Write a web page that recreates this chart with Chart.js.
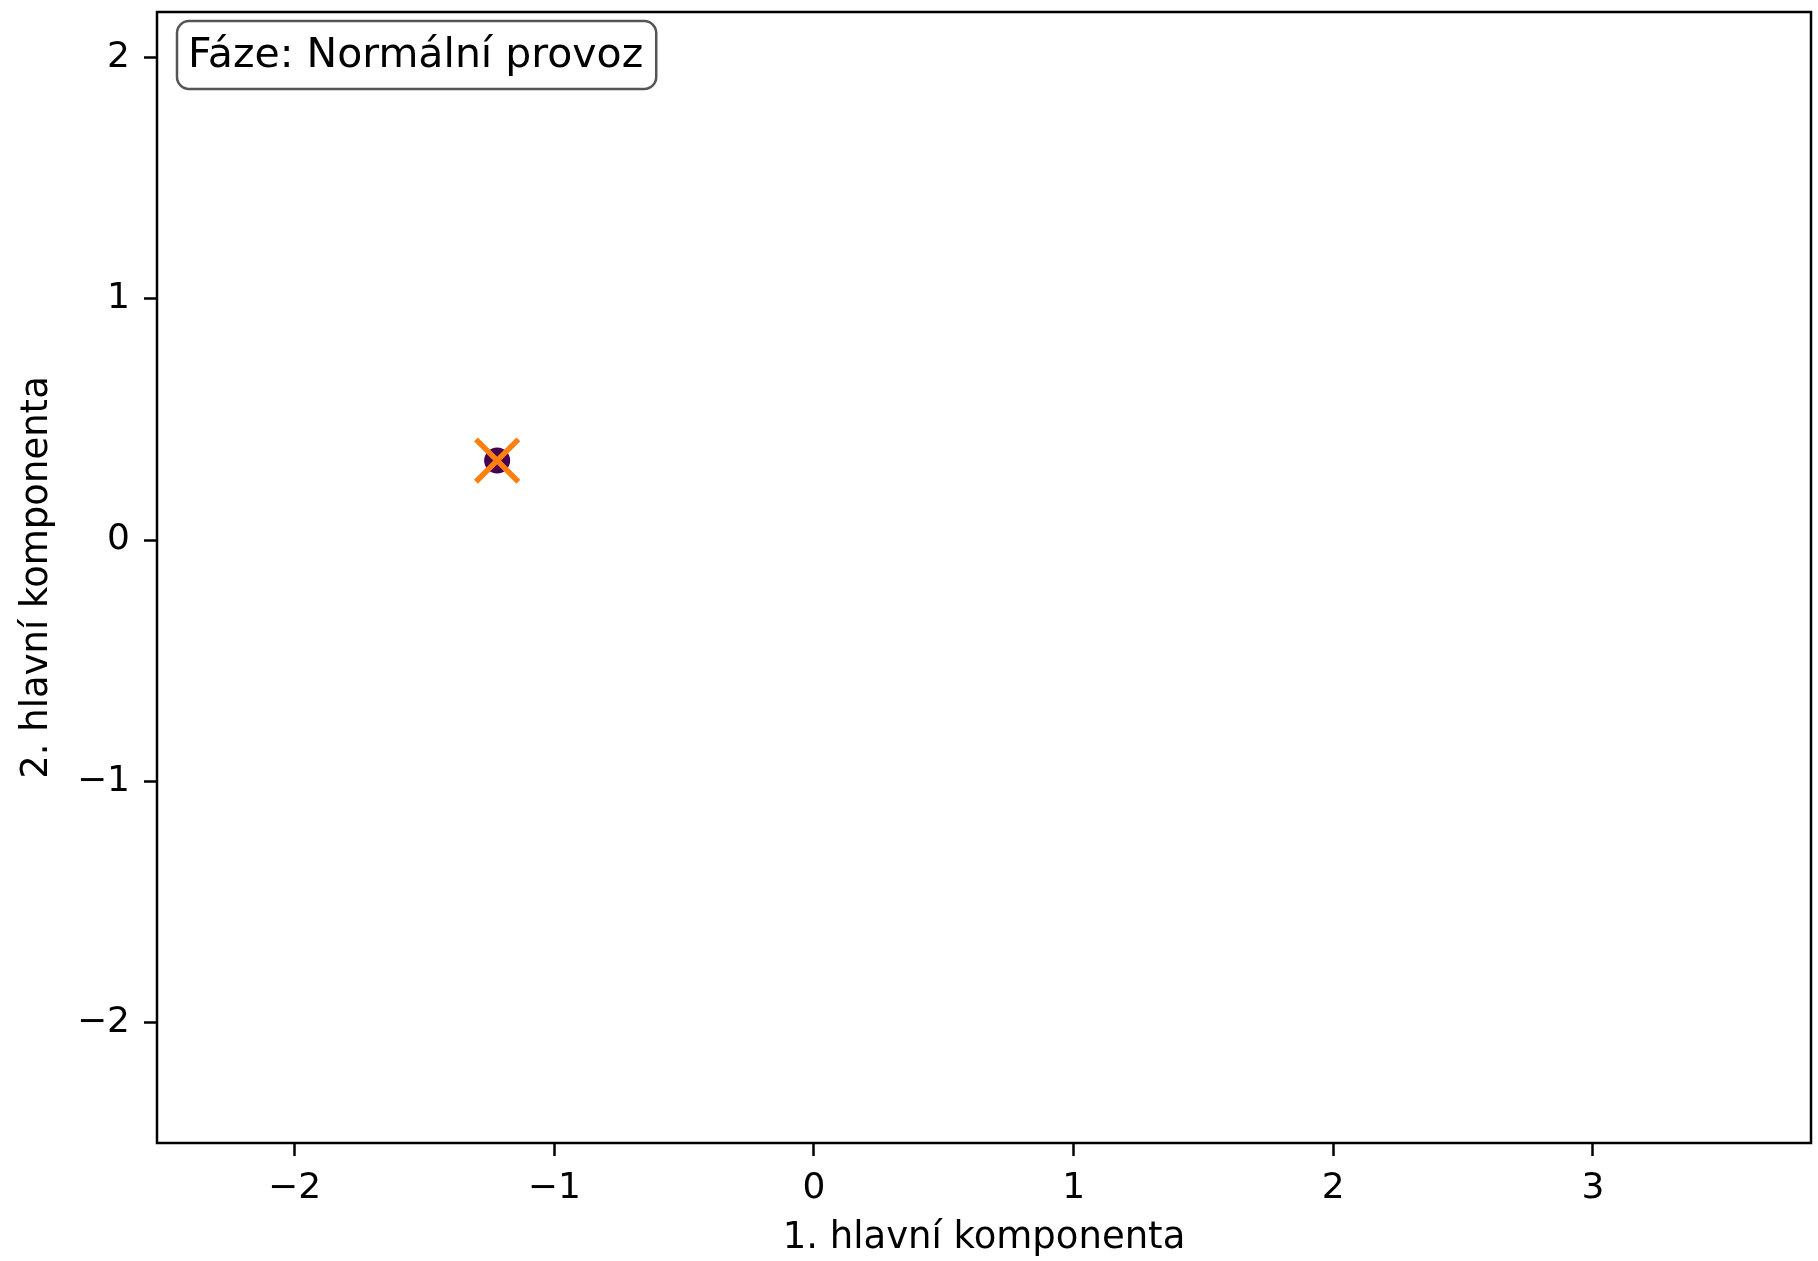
<!DOCTYPE html>
<html>
<head>
<meta charset="utf-8">
<script src="https://cdn.jsdelivr.net/npm/chart.js@4"></script>
<style>
  body { margin: 0; background: #fff; }
</style>
</head>
<body>
<canvas id="pcaChart" width="1818" height="1261"></canvas>
<script>
// trajectory in PCA space and the current position
var pc1 = [-1.22];
var pc2 = [0.33];
var currentPc1 = [-1.22];
var currentPc2 = [0.33];
var xTicks = [-2, -1, 0, 1, 2, 3];
var yTicks = [-2, -1, 0, 1, 2];
var phaseLabel = "Fáze: Normální provoz";

var family = "'DejaVu Sans', sans-serif";

function toPoints(xs, ys) {
  return xs.map(function(x, i) { return {x: x, y: ys[i]}; });
}

function minusSign(v) {
  return String(v).replace("-", "\u2212");
}

// plot frame + phase box in the top left corner
var frame = {
  id: "frame",
  afterDraw: function(chart) {
    var ctx = chart.ctx, a = chart.chartArea;
    ctx.save();
    ctx.strokeStyle = "#000";
    ctx.lineWidth = 2.5;
    ctx.strokeRect(a.left, a.top, a.right - a.left, a.bottom - a.top);

    ctx.font = "41px " + family;
    var w = ctx.measureText(phaseLabel).width;
    var x = a.left + 20, y = a.top + 9, h = 68;
    ctx.beginPath();
    ctx.roundRect(x, y, w + 24, h, 12);
    ctx.fillStyle = "#fff";
    ctx.fill();
    ctx.strokeStyle = "#555";
    ctx.lineWidth = 2.5;
    ctx.stroke();
    ctx.fillStyle = "#000";
    ctx.textBaseline = "middle";
    ctx.fillText(phaseLabel, x + 11, y + h / 2 + 1);
    ctx.restore();
  }
};

function axis(min, max, tickValues, title) {
  return {
    type: "linear",
    min: min,
    max: max,
    afterBuildTicks: function(s) {
      s.ticks = tickValues.map(function(v) { return {value: v}; });
    },
    grid: {
      drawOnChartArea: false,
      drawTicks: true,
      tickLength: 13,
      tickWidth: 2.5,
      tickColor: "#000"
    },
    border: { display: false },
    ticks: {
      color: "#000",
      font: { family: family, size: 36 },
      maxRotation: 0,
      autoSkip: false,
      callback: minusSign
    },
    title: {
      display: true,
      text: title,
      color: "#000",
      font: { family: family, size: 37 }
    }
  };
}

function noEdgePadding(s) {
  s.paddingTop = 0;
  s.paddingBottom = 0;
  s.paddingLeft = 0;
  s.paddingRight = 0;
}

var xAxis = axis(-2.53, 3.84, xTicks, "1. hlavní komponenta");
xAxis.ticks.padding = 11;
xAxis.title.padding = { top: 0, bottom: 0 };
xAxis.afterFit = function(s) { s.height = 118; noEdgePadding(s); };

var yAxis = axis(-2.5, 2.19, yTicks, "2. hlavní komponenta");
yAxis.ticks.padding = 14;
yAxis.title.padding = { top: 15, bottom: 0 };
yAxis.afterFit = function(s) { s.width = 157; noEdgePadding(s); };

new Chart("pcaChart", {
  type: "scatter",
  data: {
    datasets: [{
      label: "Aktuální stav",
      data: toPoints(currentPc1, currentPc2),
      pointStyle: "crossRot",
      pointRadius: 30,
      borderWidth: 5.5,
      borderColor: "#ff7f0e",
      backgroundColor: "#ff7f0e",
      order: 0
    }, {
      label: "Trajektorie",
      data: toPoints(pc1, pc2),
      pointStyle: "circle",
      pointRadius: 13,
      borderWidth: 0,
      backgroundColor: "#440154",
      order: 1
    }]
  },
  options: {
    responsive: false,
    animation: false,
    events: [],
    devicePixelRatio: 1,
    layout: {
      autoPadding: false,
      padding: { top: 12, right: 7, left: 0, bottom: 0 }
    },
    plugins: {
      legend: { display: false },
      tooltip: { enabled: false }
    },
    scales: { x: xAxis, y: yAxis }
  },
  plugins: [frame]
});
</script>
</body>
</html>
